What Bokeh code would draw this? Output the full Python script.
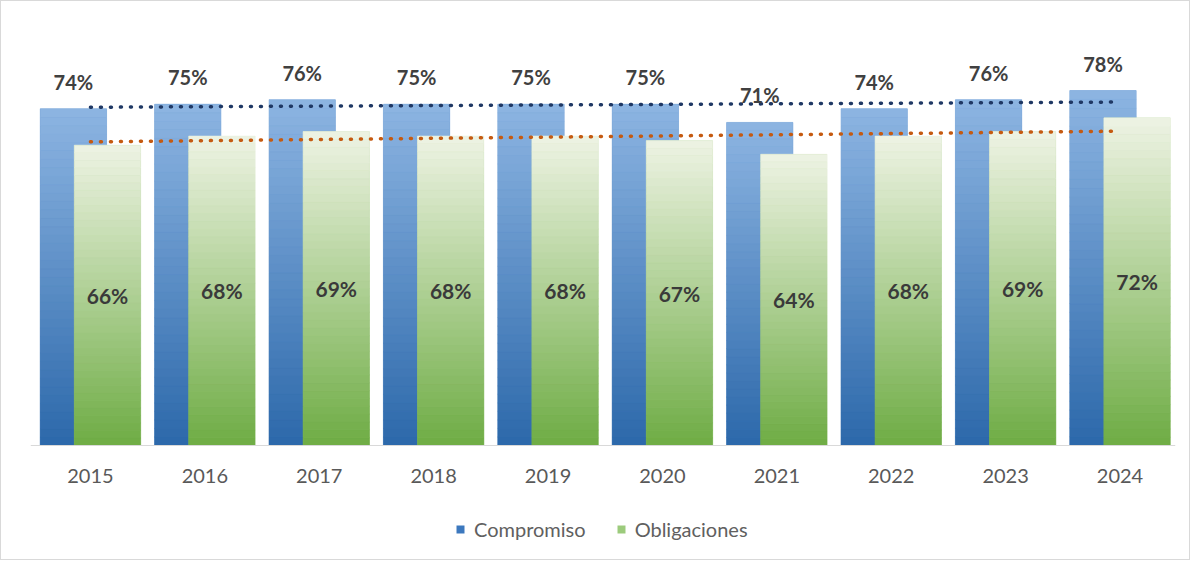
import numpy as np
from bokeh.plotting import figure
from bokeh.models import (ColumnDataSource, Range1d, FixedTicker, Legend, LegendItem)
from bokeh.core.properties import value
from bokeh.embed import file_html
from bokeh.resources import INLINE

# ---- data ----
years = ["2015", "2016", "2017", "2018", "2019", "2020", "2021", "2022", "2023", "2024"]
compromiso = [74, 75, 76, 75, 75, 75, 71, 74, 76, 78]
obligaciones = [66, 68, 69, 68, 68, 67, 64, 68, 69, 72]

FONT = "Lato"
idx = np.arange(len(years))
OFF = 0.149
BW = 0.58

p = figure(width=1190, height=560, output_backend="svg", toolbar_location=None,
           x_range=Range1d(-0.524, 9.485), y_range=Range1d(-25.27, 89.0),
           min_border_left=29, min_border_right=16, min_border_top=39, min_border_bottom=1,
           background_fill_color="white", border_fill_color="white")
p.styles = {"border": "1px solid #D9D9D9"}
p.outline_line_color = None
p.xgrid.visible = False
p.ygrid.visible = False
p.yaxis.visible = False

p.xaxis.fixed_location = 0
p.xaxis.ticker = FixedTicker(ticks=list(range(len(years))))
p.xaxis.major_label_overrides = {i: y for i, y in enumerate(years)}
p.xaxis.major_tick_line_color = None
p.xaxis.minor_tick_line_color = None
p.xaxis.axis_line_color = "#D9D9D9"
p.xaxis.major_label_text_font = FONT
p.xaxis.major_label_text_font_size = "20px"
p.xaxis.major_label_text_color = "#595959"
p.xaxis.major_label_standoff = 17


def lerp(c1, c2, t):
    a = [int(c1[i:i + 2], 16) for i in (1, 3, 5)]
    b = [int(c2[i:i + 2], 16) for i in (1, 3, 5)]
    return "#%02x%02x%02x" % tuple(int(round(a[k] + (b[k] - a[k]) * t)) for k in range(3))


def gradient_source(xs, vals, c_bottom, c_top, n=40):
    d = dict(x=[], bottom=[], top=[], color=[])
    for x, v in zip(xs, vals):
        for k in range(n):
            d["x"].append(x)
            d["bottom"].append(v * k / n)
            d["top"].append(v * (k + 1) / n)
            d["color"].append(lerp(c_bottom, c_top, (k + 0.5) / n))
    return ColumnDataSource(d)


xb = idx - OFF
xg = idx + OFF

# Compromiso bars
src_c = ColumnDataSource(dict(x=xb, top=compromiso))
r_c = p.vbar(x="x", top="top", width=BW, source=src_c, fill_color="#3C78BE", line_color=None)
p.vbar(x="x", bottom="bottom", top="top", width=BW, source=gradient_source(xb, compromiso, "#2C68AA", "#8DB5E2"),
       fill_color="color", line_color="color", line_width=0.6)

# Obligaciones bars
src_o = ColumnDataSource(dict(x=xg, top=obligaciones))
r_o = p.vbar(x="x", top="top", width=BW, source=src_o, fill_color="#9CCB7C", line_color=None)
p.vbar(x="x", bottom="bottom", top="top", width=BW, source=gradient_source(xg, obligaciones, "#6EAC44", "#EEF3E4"),
       fill_color="color", line_color="color", line_width=0.6)

# linear trendlines
for vals, col in ((compromiso, "#1F3864"), (obligaciones, "#C55A11")):
    m, b = np.polyfit(idx, vals, 1)
    ends = [idx[0], idx[-1]]
    p.line(x=ends, y=[m * e + b for e in ends], line_color=col, line_width=3.5,
           line_dash="1 9", line_cap="round")

# data labels
p.text(x=xb, y=compromiso, text=[f"{v}%" for v in compromiso], text_font=value(FONT),
       text_font_style="bold", text_font_size="20px", text_color="#404040",
       text_align="center", text_baseline="bottom", y_offset=-15)
p.text(x=xg, y=[v / 2 for v in obligaciones], text=[f"{v}%" for v in obligaciones], text_font=value(FONT),
       text_font_style="bold", text_font_size="21px", text_color="#3A3A3A",
       text_align="center", text_baseline="middle")

legend = Legend(items=[LegendItem(label="Compromiso", renderers=[r_c]),
                       LegendItem(label="Obligaciones", renderers=[r_o])],
                orientation="horizontal", location=(425, 19))
legend.label_text_font = FONT
legend.label_text_font_size = "20px"
legend.label_text_color = "#606060"
legend.glyph_width = 10
legend.glyph_height = 10
legend.label_standoff = 9
legend.spacing = 30
legend.border_line_color = None
legend.background_fill_alpha = 0
legend.margin = 0
legend.padding = 4
p.add_layout(legend, "center")

open("out.html", "w").write(file_html(p, INLINE))
